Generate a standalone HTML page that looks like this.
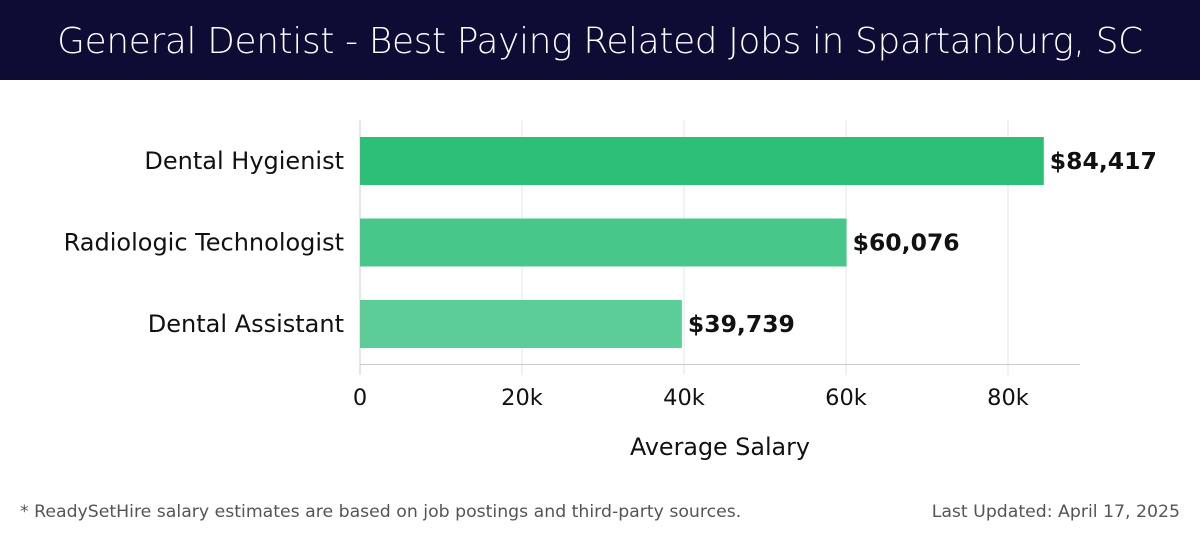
<!DOCTYPE html>
<html><head><meta charset="utf-8"><style>
body{margin:0;width:1200px;height:540px;background:#fff;font-family:"DejaVu Sans","Liberation Sans",sans-serif;overflow:hidden;position:relative}
.hdr{position:absolute;left:0;top:0;width:1200px;height:80px;background:#0c0c35;color:#fff;font-size:35.8px;text-align:center;line-height:84px;font-family:"DejaVu Sans","Liberation Sans",sans-serif;font-weight:300;letter-spacing:-0.3px}
.foot{position:absolute;top:502px;font-size:17.3px;color:#555}
</style></head><body>
<div class="hdr">General Dentist - Best Paying Related Jobs in Spartanburg, SC</div>
<svg id="c" width="1200" height="540" style="position:absolute;left:0;top:0"></svg>
<div class="foot" style="left:20px">* ReadySetHire salary estimates are based on job postings and third-party sources.</div>
<div class="foot" style="right:20px">Last Updated: April 17, 2025</div>
<script>
const categories=["Dental Hygienist","Radiologic Technologist","Dental Assistant"];
const values=[84417,60076,39739];
const labels=["$84,417","$60,076","$39,739"];
const ticks=[0,20000,40000,60000,80000];
const tickLabels=["0","20k","40k","60k","80k"];
const colors=["#2bbf77","#48c78b","#5ccd98"];
const svg=document.getElementById('c');const NS="http://www.w3.org/2000/svg";
const x0=360,pxPer=684-360,xMax=88900;
const x=v=>x0+v/40000*pxPer;
const plotTop=120,band=81.5,bh=48;
const y=i=>plotTop+17+i*band;
function mk(t,a,txt){const e=document.createElementNS(NS,t);for(const k in a)e.setAttribute(k,a[k]);if(txt!=null)e.textContent=txt;svg.appendChild(e);return e;}
ticks.forEach((t,i)=>{
 const g=mk('line',{x1:x(t),x2:x(t),y1:plotTop,y2:375,stroke:i?'#e6e6e6':'#ccc','stroke-width':1});
 
 
 const l=mk('text',{x:x(t),y:405,'text-anchor':'middle','font-size':22.5,fill:'#111'},tickLabels[i]);
 
 
});
const ax=mk('line',{x1:x0,x2:x(xMax),y1:364.5,y2:364.5,stroke:'#ccc'});


categories.forEach((c,i)=>{
 const r=mk('rect',{x:x0,y:y(i),width:x(values[i])-x0,height:bh,fill:colors[i]});
 
 
 const cl=mk('text',{x:344,y:y(i)+bh/2+8,'text-anchor':'end','font-size':24,fill:'#111'},c);
 
 
 const vl=mk('text',{x:x(values[i])+6,y:y(i)+bh/2+8,'font-size':23.5,'font-weight':'bold',fill:'#111'},labels[i]);
 
 
});
const xt=mk('text',{x:720,y:455,'text-anchor':'middle','font-size':23.8,fill:'#111'},'Average Salary');


</script>
</body></html>
